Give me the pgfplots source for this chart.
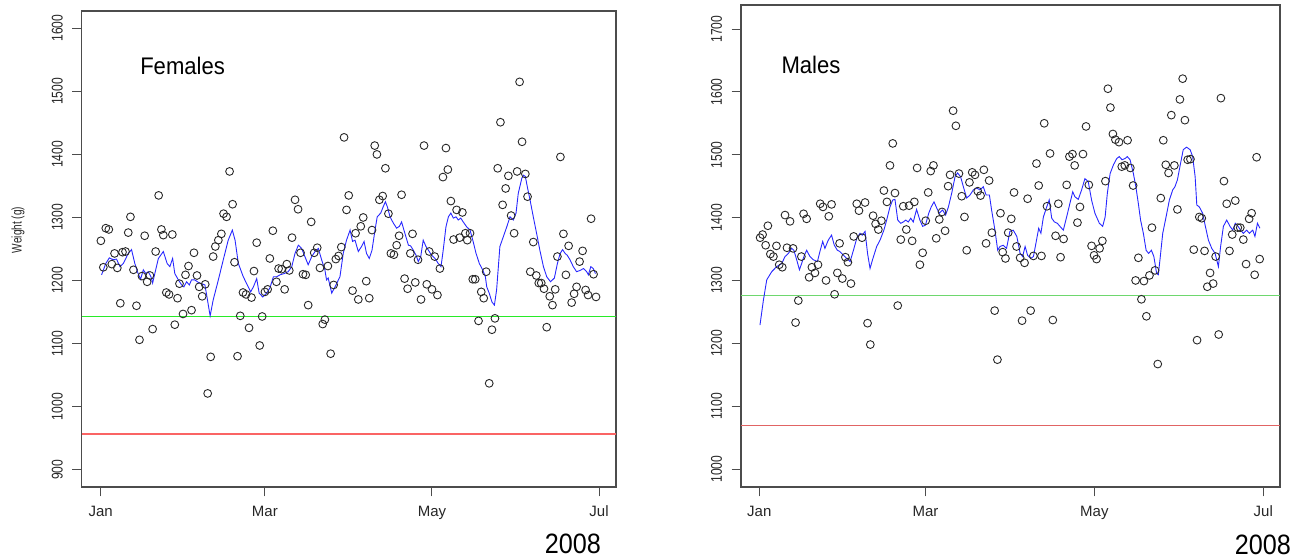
\documentclass[border=0pt]{standalone}
\usepackage{fontspec}
\setmainfont{Liberation Sans}
\newfontfamily\narrowfont[FakeStretch=0.78]{Liberation Sans}
\newfontfamily\labelfont[FakeStretch=0.72]{Liberation Sans}
\newfontfamily\yearfont[FakeStretch=0.9]{Liberation Sans}
\usepackage{pgfplots}
\pgfplotsset{compat=1.18}

\definecolor{ptcol}{RGB}{40,40,40}
\definecolor{linecol}{RGB}{40,40,255}
\definecolor{fgreen}{RGB}{40,235,40}
\definecolor{fred}{RGB}{250,100,100}
\definecolor{mgreen}{RGB}{110,215,110}
\definecolor{mred}{RGB}{225,100,100}

\pgfplotsset{
  rplot/.style={
    scale only axis, clip=false,
    axis line style={draw=black!70, line width=1.1pt},
    tick align=outside, major tick length=9.5pt,
    tick style={draw=black!70, line width=1pt},
    xtick pos=bottom, ytick pos=left,
    xtick={0,60,121,182}, xticklabels={Jan,Mar,May,Jul},
    xticklabel style={font=\fontsize{15}{17}\selectfont, text=black!85},
    yticklabel style={font=\narrowfont\fontsize{15.5}{17}\selectfont, text=black!85,
      rotate=90, anchor=south},
    xticklabel shift=6pt, yticklabel shift=6pt,
    /pgf/number format/assume math mode=true,
    /pgf/number format/set thousands separator={},
    scaled ticks=false,
  },
  pts/.style={only marks, mark=o, mark size=3.9pt,
    mark options={draw=ptcol, line width=0.9pt}},
  smooth line/.style={linecol, line width=0.9pt, mark=none},
}

\begin{document}
\begin{tikzpicture}
\useasboundingbox (0,0) rectangle (1303pt,559pt);

% ---------------- Females
\begin{axis}[rplot,
  at={(81.7pt,72pt)}, anchor=south west,
  width=534.3pt, height=476pt,
  xmin=-6.9, xmax=188.2, ymin=872.6, ymax=1627.4,
  ytick={900,1000,...,1600}]
\addplot[fgreen, line width=1.2pt] coordinates {(-6.9,1143) (188.2,1143)};
\addplot[fred, line width=1.2pt] coordinates {(-6.9,956.5) (188.2,956.5)};
\addplot[pts] coordinates {
(0.1,1263) (1.0,1221) (1.9,1283) (3.0,1281) (4.1,1226) (5.1,1243) (6.1,1220)
(7.2,1164) (8.0,1245) (9.1,1246) (10.1,1276) (10.9,1301) (12.0,1217) (13.1,1160)
(14.2,1106) (15.1,1207) (16.1,1271) (17.0,1198) (18.0,1208) (19.0,1123) (20.1,1246)
(21.2,1335) (22.2,1281) (22.9,1272) (24.0,1181) (25.0,1178) (26.2,1273) (27.1,1130)
(28.1,1172) (28.8,1195) (30.1,1147) (31.0,1209) (32.1,1223) (33.2,1153) (34.1,1244)
(35.2,1208) (36.0,1190) (37.1,1175) (38.2,1194) (39.1,1021) (40.2,1079) (41.1,1238)
(41.9,1254) (43.0,1264) (44.1,1274) (44.9,1306) (46.0,1301) (47.1,1373) (48.2,1321)
(48.9,1229) (50.0,1080) (51.0,1144) (52.0,1181) (53.1,1178) (54.2,1125) (55.1,1173)
(56.0,1215) (57.0,1260) (58.1,1097) (59.0,1143) (60.0,1182) (61.0,1186) (61.8,1235)
(62.9,1279) (64.2,1198) (65.0,1219) (66.1,1218) (67.2,1186) (68.0,1226) (68.9,1216)
(69.9,1268) (71.0,1328) (72.1,1313) (73.0,1244) (73.9,1210) (74.9,1209) (75.8,1161)
(76.9,1293) (78.0,1244) (79.1,1252) (80.1,1220) (81.1,1131) (81.9,1138) (83.0,1223)
(84.0,1084) (85.1,1193) (85.9,1234) (86.9,1239) (87.9,1253) (88.9,1427) (89.8,1312)
(90.6,1335) (92.0,1184) (93.1,1275) (94.1,1170) (95.0,1286) (95.9,1300) (97.0,1199)
(98.1,1172) (99.1,1280) (100.1,1414) (100.9,1400) (101.8,1328) (103.0,1334) (104.0,1378)
(105.1,1306) (106.0,1243) (107.1,1241) (108.1,1256) (109.0,1271) (109.9,1336) (111.0,1203)
(112.1,1187) (113.1,1243) (113.9,1274) (114.9,1197) (115.9,1233) (117.0,1170) (118.1,1414)
(119.1,1194) (120.0,1246) (121.0,1186) (122.0,1238) (123.0,1177) (123.9,1219) (125.0,1364)
(126.1,1410) (126.8,1376) (127.9,1326) (128.9,1265) (130.0,1312) (131.1,1268) (132.1,1308)
(133.2,1275) (133.9,1264) (134.9,1275) (135.9,1202) (136.8,1202) (138.0,1136) (139.0,1182)
(139.9,1172) (140.8,1214) (141.9,1037) (142.9,1122) (144.0,1140) (145.0,1378) (146.0,1451)
(146.8,1320) (147.9,1346) (148.9,1366) (149.9,1303) (151.0,1275) (152.1,1373) (153.0,1515)
(153.9,1420) (155.1,1369) (155.9,1333) (156.9,1214) (158.0,1261) (159.1,1208) (160.0,1196)
(160.9,1196) (161.9,1187) (162.9,1126) (164.0,1175) (165.0,1161) (166.0,1186) (166.8,1238)
(167.9,1396) (169.0,1274) (169.9,1209) (170.9,1255) (172.0,1165) (172.9,1179) (173.8,1190)
(174.9,1230) (176.0,1247) (177.1,1185) (178.0,1177) (179.1,1298) (180.0,1210) (180.9,1174)
};
\addplot[smooth line] coordinates {
(0.35,1209) (1.9,1227) (3.2,1236) (4.6,1233) (5.8,1234) (7.1,1222) (8.3,1227)
(10.1,1243) (11.3,1249) (12.5,1227) (13.7,1211) (14.6,1202) (15.6,1217) (16.5,1211)
(17.4,1214) (18.4,1206) (19.0,1196) (19.8,1211) (21.1,1235) (22.9,1246) (24.3,1227)
(25.3,1222) (26.3,1235) (27.1,1211) (28.4,1201) (29.6,1193) (30.4,1190) (31.4,1198)
(32.4,1193) (33.2,1201) (34.4,1201) (35.7,1197) (36.9,1195) (38.1,1193) (40.0,1144)
(41.1,1169) (43.0,1201) (44.8,1233) (46.6,1264) (48.1,1280) (49.1,1264) (50.3,1227)
(52.1,1206) (53.9,1190) (54.8,1182) (55.8,1190) (57.0,1203) (57.9,1180) (59.2,1174)
(60.6,1180) (61.8,1188) (63.1,1206) (64.3,1206) (65.5,1209) (67.0,1211) (68.5,1214)
(69.8,1222) (71.0,1243) (72.2,1256) (73.4,1251) (74.6,1238) (75.8,1225) (77.1,1238)
(78.3,1246) (79.5,1251) (80.7,1233) (81.9,1217) (82.5,1201) (83.1,1204) (84.4,1180)
(85.6,1190) (87.4,1206) (88.6,1243) (89.8,1264) (91.1,1280) (92.0,1262) (92.9,1264)
(94.1,1246) (95.3,1254) (96.2,1262) (97.1,1243) (98.1,1235) (99.1,1248) (100.2,1280)
(101.0,1301) (102.3,1307) (103.2,1317) (104.0,1325) (104.7,1317) (105.7,1301) (106.9,1291)
(108.1,1283) (109.1,1286) (109.9,1293) (111.1,1275) (112.4,1256) (113.2,1255) (114.2,1248)
(115.2,1240) (116.0,1230) (116.9,1238) (117.8,1264) (118.8,1254) (119.7,1248) (120.9,1240)
(122.1,1235) (123.3,1227) (124.3,1222) (125.1,1248) (126.1,1285) (127.0,1301) (127.9,1307)
(128.8,1299) (129.8,1301) (130.6,1296) (131.5,1299) (132.4,1293) (133.7,1285) (134.9,1280)
(135.9,1264) (137.1,1243) (138.3,1227) (139.5,1217) (140.5,1206) (141.0,1190) (141.9,1180)
(142.9,1166) (143.8,1161) (144.6,1185) (145.8,1254) (147.1,1270) (148.3,1285) (149.5,1301)
(150.7,1296) (151.7,1307) (152.5,1338) (153.8,1362) (154.4,1367) (155.1,1365) (155.8,1349)
(156.8,1328) (158.0,1301) (159.2,1275) (160.4,1248) (161.7,1222) (162.9,1206) (164.3,1198)
(165.7,1204) (166.8,1227) (167.8,1243) (168.7,1249) (169.6,1243) (170.4,1240) (171.4,1233)
(172.6,1222) (173.8,1214) (175.1,1216) (176.3,1219) (177.5,1214) (178.1,1209) (179.0,1222)
(179.9,1219) (180.7,1211)
};
\node[anchor=base west, font=\fontsize{24}{28}\selectfont, xscale=0.92]
  at (axis description cs:0.1035,0.8676) {Females};
\node[rotate=90, font=\labelfont\fontsize{14}{16}\selectfont, text=black!85]
  at (axis description cs:-0.119,0.54) {Weight (g)};
\node[anchor=base east, font=\yearfont\fontsize{28}{32}\selectfont, inner sep=0pt]
  at (axis description cs:0.9722,-0.139) {2008};
\end{axis}

% ---------------- Males
\begin{axis}[rplot,
  at={(741pt,72pt)}, anchor=south west,
  width=539pt, height=482pt,
  xmin=-6.6, xmax=188.05, ymin=971.4, ymax=1738.2,
  ytick={1000,1100,...,1700}]
\addplot[mgreen, line width=0.8pt] coordinates {(-6.6,1276.5) (188.05,1276.5)};
\addplot[mred, line width=0.8pt] coordinates {(-6.6,1070) (188.05,1070)};
\addplot[pts] coordinates {
(0.3,1368) (1.2,1373) (2.3,1356) (3.1,1387) (4.0,1342) (5.1,1338) (6.2,1355)
(7.2,1325) (8.3,1321) (9.3,1404) (10.0,1352) (11.1,1394) (12.2,1351) (13.1,1233)
(14.1,1268) (15.2,1338) (16.0,1406) (17.1,1398) (18.0,1305) (19.0,1321) (20.1,1312)
(21.2,1325) (22.0,1422) (23.0,1417) (24.1,1300) (25.1,1402) (26.1,1421) (27.2,1278)
(28.2,1312) (29.0,1359) (30.0,1303) (31.1,1337) (32.0,1329) (33.1,1295) (34.1,1370)
(35.2,1422) (36.0,1411) (37.1,1368) (38.2,1424) (39.1,1232) (40.1,1198) (41.1,1403)
(42.0,1390) (43.0,1381) (44.1,1395) (45.0,1443) (46.1,1425) (47.2,1483) (48.2,1518)
(49.0,1439) (50.0,1260) (51.1,1365) (52.0,1418) (53.1,1381) (54.1,1419) (55.2,1363)
(56.0,1425) (57.0,1479) (58.0,1325) (59.0,1344) (60.1,1395) (61.0,1440) (61.9,1474)
(62.9,1483) (63.9,1367) (65.0,1397) (66.0,1409) (67.1,1379) (68.2,1450) (68.9,1468)
(70.0,1570) (71.0,1546) (72.1,1470) (73.1,1434) (74.1,1401) (74.9,1348) (75.9,1456)
(76.9,1472) (77.9,1468) (78.9,1442) (79.9,1435) (81.1,1476) (81.9,1359) (83.0,1459)
(84.0,1376) (85.0,1252) (86.0,1174) (87.1,1407) (87.9,1345) (88.9,1335) (89.9,1376)
(91.0,1398) (92.0,1440) (92.9,1354) (94.2,1336) (94.9,1236) (95.8,1328) (96.9,1430)
(98.0,1252) (99.0,1339) (100.1,1486) (100.9,1451) (101.9,1339) (102.9,1550) (103.9,1418)
(105.0,1502) (106.0,1237) (107.0,1371) (108.0,1422) (108.8,1337) (109.9,1366) (111.0,1452)
(112.0,1497) (113.1,1501) (113.9,1483) (114.9,1392) (115.8,1417) (116.9,1501) (118.0,1545)
(119.0,1452) (120.0,1355) (120.9,1340) (121.8,1334) (122.9,1351) (123.9,1363) (125.0,1458)
(125.9,1605) (126.8,1575) (127.7,1533) (128.6,1524) (129.9,1520) (130.9,1481) (132.0,1483)
(133.0,1523) (134.0,1479) (135.0,1451) (135.9,1300) (136.9,1336) (138.0,1270) (138.9,1299)
(139.8,1243) (140.9,1308) (141.8,1384) (142.9,1316) (143.9,1167) (145.0,1431) (145.9,1523)
(146.8,1484) (147.8,1471) (148.8,1563) (149.9,1483) (151.0,1413) (151.9,1588) (152.9,1621)
(153.7,1555) (154.7,1492) (155.7,1493) (156.9,1349) (158.1,1205) (158.9,1401) (159.8,1399)
(160.8,1347) (161.8,1290) (162.8,1312) (163.9,1295) (164.8,1338) (165.9,1214) (166.7,1590)
(167.8,1458) (168.8,1422) (169.8,1347) (170.8,1373) (171.9,1427) (172.8,1384) (173.7,1384)
(174.8,1365) (175.8,1326) (176.9,1398) (177.8,1407) (178.9,1309) (179.6,1496) (180.7,1334)
};
\addplot[smooth line] coordinates {
(0.25,1229) (1.5,1269) (2.7,1301) (4.5,1314) (6.3,1322) (8.1,1327) (9.3,1338)
(10.5,1343) (11.7,1351) (12.5,1348) (13.5,1333) (14.5,1317) (15.3,1327) (16.1,1338)
(17.1,1348) (18.3,1338) (19.5,1333) (21.0,1330) (21.9,1346) (22.9,1362) (23.7,1351)
(24.9,1364) (26.1,1372) (27.1,1356) (28.2,1348) (29.1,1346) (30.4,1340) (31.6,1335)
(32.8,1330) (34.0,1348) (35.2,1367) (36.4,1375) (37.2,1372) (38.2,1378) (39.1,1343)
(40.0,1319) (40.9,1333) (42.4,1354) (43.6,1364) (45.0,1380) (46.0,1396) (47.2,1417)
(48.2,1428) (49.0,1429) (50.0,1396) (51.1,1391) (52.0,1393) (52.9,1396) (53.8,1393)
(54.7,1399) (55.6,1393) (56.8,1413) (58.0,1396) (59.0,1386) (60.0,1388) (61.2,1407)
(62.1,1417) (63.1,1425) (64.1,1415) (65.0,1407) (66.2,1412) (67.3,1404) (68.3,1417)
(69.5,1439) (70.7,1465) (71.6,1471) (72.7,1465) (73.7,1449) (74.9,1431) (76.1,1436)
(77.3,1444) (78.5,1447) (79.7,1444) (80.9,1449) (81.9,1436) (83.1,1436) (83.9,1412)
(85.1,1380) (86.1,1348) (86.9,1354) (88.1,1356) (89.3,1351) (90.5,1378) (91.7,1380)
(93.0,1370) (94.2,1343) (95.1,1338) (96.0,1354) (96.9,1340) (98.0,1335) (99.0,1338)
(99.9,1359) (100.9,1383) (101.7,1375) (102.6,1401) (103.8,1417) (104.7,1428) (105.6,1399)
(106.6,1393) (107.6,1391) (108.6,1386) (109.8,1380) (111.0,1401) (112.2,1423) (113.2,1441)
(114.0,1433) (115.2,1429) (116.4,1444) (117.6,1462) (118.8,1457) (120.0,1428) (121.2,1407)
(122.8,1391) (124.0,1386) (124.9,1401) (125.7,1439) (126.7,1470) (127.9,1484) (129.1,1494)
(130.0,1497) (131.0,1492) (132.1,1494) (132.9,1497) (133.9,1492) (135.1,1470) (136.0,1449)
(136.9,1422) (137.7,1396) (138.7,1375) (139.7,1348) (140.6,1343) (141.6,1348) (142.5,1338)
(143.5,1311) (144.1,1309) (144.7,1333) (145.7,1375) (146.9,1401) (148.1,1428) (149.3,1444)
(150.1,1449) (151.0,1460) (151.9,1481) (153.1,1508) (154.3,1512) (155.6,1508) (156.5,1497)
(157.4,1465) (158.0,1420) (158.9,1417) (160.1,1407) (161.1,1386) (162.2,1364) (163.4,1351)
(164.6,1343) (165.8,1322) (166.6,1354) (167.6,1386) (168.8,1396) (170.0,1386) (171.0,1380)
(171.9,1391) (172.9,1386) (173.8,1380) (174.8,1375) (176.0,1380) (177.0,1375) (178.2,1380)
(179.0,1370) (179.9,1391) (180.8,1383)
};
\node[anchor=base west, font=\fontsize{24}{28}\selectfont, xscale=0.92]
  at (axis description cs:0.0692,0.857) {Males};
\node[anchor=base east, font=\yearfont\fontsize{28}{32}\selectfont, inner sep=0pt]
  at (axis description cs:1.0204,-0.141) {2008};
\end{axis}
\end{tikzpicture}
\end{document}
